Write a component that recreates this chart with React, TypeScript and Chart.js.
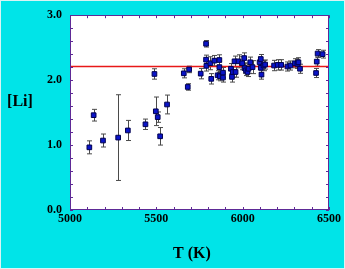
import React, { useEffect, useRef } from "react";
import { Chart, registerables } from "chart.js";

Chart.register(...registerables);

const temps = [
  5112, 5137, 5191, 5279, 5335, 5437, 5489, 5497, 5508, 5522, 5562,
  5659, 5682, 5690, 5757, 5788, 5788, 5790, 5813, 5818, 5836, 5855,
  5865, 5865, 5868, 5886, 5886, 5932, 5938, 5943, 5953, 5959, 5976,
  5997, 6009, 6011, 6019, 6028, 6034, 6044, 6057, 6098, 6105, 6105,
  6109, 6121, 6130, 6182, 6203, 6223, 6259, 6277, 6303, 6317, 6323,
  6332, 6425, 6429, 6434, 6463,
];
const liValues = [
  0.965, 1.46, 1.07, 1.115, 1.225, 1.32, 2.095, 1.52, 1.43, 1.135, 1.625,
  2.105, 1.895, 2.165, 2.1, 2.56, 2.315, 2.22, 2.26, 2.02, 2.3, 2.075,
  2.31, 2.2, 2.06, 2.115, 2.04, 2.175, 2.05, 2.125, 2.29, 2.125, 2.29,
  2.26, 2.34, 2.185, 2.15, 2.125, 2.175, 2.275, 2.2, 2.275, 2.325, 2.19,
  2.085, 2.225, 2.24, 2.225, 2.235, 2.235, 2.21, 2.225, 2.26, 2.25, 2.275,
  2.175, 2.11, 2.285, 2.41, 2.4,
];
const liErrors = [
  0.1, 0.09, 0.1, 0.66, 0.155, 0.08, 0.08, 0.22, 0.08, 0.135, 0.145,
  0.07, 0.05, 0.05, 0.08, 0.05, 0.07, 0.08, 0.1, 0.08, 0.08, 0.07,
  0.08, 0.08, 0.07, 0.08, 0.07, 0.08, 0.08, 0.08, 0.08, 0.08, 0.1,
  0.1, 0.08, 0.08, 0.08, 0.07, 0.07, 0.08, 0.1, 0.08, 0.07, 0.08,
  0.07, 0.08, 0.07, 0.08, 0.08, 0.08, 0.07, 0.07, 0.07, 0.07, 0.07,
  0.07, 0.07, 0.07, 0.06, 0.06,
];
const plateauLi = 2.21;
const xRange = [5000, 6500];
const yRange = [0, 3];
const xTitle = "T (K)";
const yTitle = "[Li]";

const CYAN = "#00e4e8";
const PURPLE = "#5e2a96";
const FONT = "'Liberation Serif', 'Times New Roman', serif";

export default function App() {
  const ref = useRef<HTMLCanvasElement | null>(null);

  useEffect(() => {
    document.body.style.margin = "0";
    const canvas = ref.current;
    if (!canvas) return;

    const bgPlugin = {
      id: "bg",
      beforeDraw(chart: any) {
        const { ctx, width, height, chartArea } = chart;
        ctx.save();
        ctx.fillStyle = CYAN;
        ctx.fillRect(0, 0, width, height);
        ctx.strokeStyle = "#d8f4f4";
        ctx.lineWidth = 1;
        ctx.strokeRect(0.5, 0.5, width - 1, height - 1);
        ctx.fillStyle = "#ffffff";
        ctx.fillRect(chartArea.left, chartArea.top, chartArea.right - chartArea.left, chartArea.bottom - chartArea.top);
        ctx.restore();
      },
      beforeDatasetsDraw(chart: any) {
        const { ctx } = chart;
        const xs = chart.scales.x;
        const ys = chart.scales.y;
        ctx.save();
        ctx.strokeStyle = "#4a4a4a";
        ctx.lineWidth = 1;
        for (let i = 0; i < temps.length; i++) {
          const px = Math.round(xs.getPixelForValue(temps[i])) + 0.5;
          const top = ys.getPixelForValue(liValues[i] + liErrors[i]);
          const bot = ys.getPixelForValue(liValues[i] - liErrors[i]);
          ctx.beginPath();
          ctx.moveTo(px, top);
          ctx.lineTo(px, bot);
          ctx.moveTo(px - 2.5, top);
          ctx.lineTo(px + 2.5, top);
          ctx.moveTo(px - 2.5, bot);
          ctx.lineTo(px + 2.5, bot);
          ctx.stroke();
        }
        ctx.restore();
      },
      afterDraw(chart: any) {
        const { ctx, chartArea } = chart;
        const xs = chart.scales.x;
        const ys = chart.scales.y;
        const { left, right, top, bottom } = chartArea;
        ctx.save();
        ctx.strokeStyle = PURPLE;
        ctx.lineWidth = 1;
        ctx.beginPath();
        for (let v = xRange[0]; v <= xRange[1]; v += 100) {
          const px = Math.round(xs.getPixelForValue(v)) + 0.5;
          ctx.moveTo(px, bottom);
          ctx.lineTo(px, bottom - 3);
          ctx.moveTo(px, top);
          ctx.lineTo(px, top + 3);
        }
        for (let k = 0; k <= 15; k++) {
          const v = k * 0.2;
          const py = Math.round(ys.getPixelForValue(v)) + 0.5;
          ctx.moveTo(left, py);
          ctx.lineTo(left + 3, py);
          ctx.moveTo(right, py);
          ctx.lineTo(right - 3, py);
        }
        ctx.stroke();
        ctx.strokeRect(Math.round(left) + 0.5, Math.round(top) + 0.5, Math.round(right - left) - 1, Math.round(bottom - top) - 1);
        ctx.fillStyle = "#000000";
        ctx.font = `bold 16px ${FONT}`;
        ctx.textAlign = "center";
        ctx.textBaseline = "middle";
        ctx.fillText(yTitle, 20, 102);
        ctx.fillText(xTitle, 192, 254);
        ctx.restore();
      },
    };

    const chart = new Chart(canvas, {
      type: "scatter",
      data: {
        datasets: [
          {
            data: temps.map((t, i) => ({ x: t, y: liValues[i] })),
            pointStyle: "rect",
            pointRadius: 3.3,
            backgroundColor: "#0a14c8",
            borderColor: "#000050",
            borderWidth: 1,
          },
          {
            type: "line",
            data: [
              { x: xRange[0], y: plateauLi },
              { x: xRange[1], y: plateauLi },
            ],
            borderColor: "#e81818",
            borderWidth: 1.3,
            pointRadius: 0,
            showLine: true,
          } as any,
        ],
      },
      options: {
        animation: false,
        responsive: false,
        events: [],
        layout: { padding: { top: 10, right: 16, left: 0, bottom: 0 } },
        plugins: { legend: { display: false }, tooltip: { enabled: false } },
        scales: {
          x: {
            type: "linear",
            min: xRange[0],
            max: xRange[1],
            grid: { display: false, drawTicks: false },
            border: { display: false },
            ticks: {
              stepSize: 500,
              padding: 2,
              color: "#000",
              maxRotation: 0,
              font: { family: FONT, size: 12, weight: "bold" },
              callback: (v: any) => String(v),
            },
            afterFit: (s: any) => {
              s.height = 59;
            },
          },
          y: {
            type: "linear",
            min: yRange[0],
            max: yRange[1],
            grid: { display: false, drawTicks: false },
            border: { display: false },
            ticks: {
              stepSize: 1,
              padding: 8,
              color: "#000",
              font: { family: FONT, size: 12, weight: "bold" },
              callback: (v: any) => Number(v).toFixed(1),
            },
            afterFit: (s: any) => {
              s.width = 70;
            },
          },
        },
      },
      plugins: [bgPlugin],
    } as any);

    return () => chart.destroy();
  }, []);

  return (
    <div style={{ width: 345, height: 269 }}>
      <canvas ref={ref} width={345} height={269} style={{ display: "block" }} />
    </div>
  );
}
